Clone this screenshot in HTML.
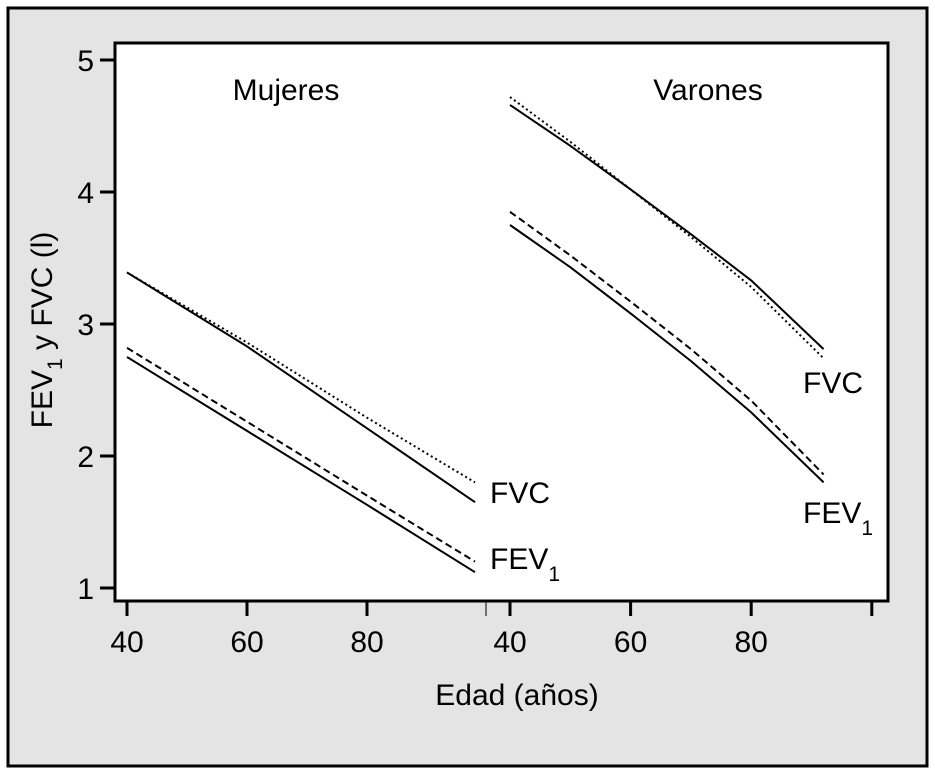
<!DOCTYPE html>
<html><head><meta charset="utf-8"><style>
body{margin:0;background:#fff}
svg{display:block;font-family:"Liberation Sans",sans-serif}
</style></head><body>
<svg width="935" height="773">
<rect x="8" y="8" width="919" height="758" fill="#e4e4e4" stroke="#000" stroke-width="3"/>
<rect x="115" y="43" width="773" height="558" fill="#fff" stroke="#000" stroke-width="3"/>
<g id="axes"></g>
<g id="series"></g>
<text x="286" y="100" font-size="30" text-anchor="middle">Mujeres</text>
<text x="708" y="100" font-size="30" text-anchor="middle">Varones</text>
<text x="490" y="503" font-size="30">FVC</text>
<text x="490" y="569" font-size="30">FEV<tspan font-size="21" dy="12">1</tspan></text>
<text x="803" y="393" font-size="30">FVC</text>
<text x="803" y="523" font-size="30">FEV<tspan font-size="21" dy="12">1</tspan></text>
<text x="517" y="705" font-size="30" text-anchor="middle">Edad (años)</text>
<text transform="translate(52,330) rotate(-90)" font-size="30" text-anchor="middle">FEV<tspan font-size="21" dy="10">1</tspan><tspan dy="-10"> y FVC (l)</tspan></text>
</svg>
<script>
const yTicks=[1,2,3,4,5];
const xTicks=[40,60,80];
const agesLeft=[40,60,80,98];
const agesRight=[40,50,60,70,80,92];
const mFvcSolid=[3.39,2.83,2.21,1.65];
const mFvcDotted=[3.39,2.86,2.29,1.80];
const mFev1Solid=[2.75,2.19,1.63,1.12];
const mFev1Dashed=[2.82,2.26,1.70,1.20];
const vFvcSolid=[4.66,4.35,4.02,3.68,3.33,2.81];
const vFvcDotted=[4.72,4.38,4.02,3.66,3.28,2.74];
const vFev1Solid=[3.75,3.43,3.08,2.72,2.33,1.80];
const vFev1Dashed=[3.85,3.52,3.17,2.81,2.42,1.86];
const NS="http://www.w3.org/2000/svg";
const y=v=>588-(v-1)*132;
const xL=a=>127+6*(a-40);
const xR=a=>510+6.03*(a-40);
const axes=document.getElementById('axes'),series=document.getElementById('series');
function mk(tag,attrs,parent){const e=document.createElementNS(NS,tag);for(const k in attrs)e.setAttribute(k,attrs[k]);parent.appendChild(e);return e;}
yTicks.forEach(v=>{
  const t=mk('line',{x1:100,x2:115,y1:y(v),y2:y(v),stroke:'#000','stroke-width':3},axes);
  
  
  const l=mk('text',{x:94,y:y(v)+11,'font-size':30,'text-anchor':'end'},axes);l.textContent=v;
  
  
});
[xL,xR].forEach(fx=>{
  xTicks.forEach(a=>{
    const t=mk('line',{x1:fx(a),x2:fx(a),y1:602,y2:616,stroke:'#000','stroke-width':3},axes);
    
    
    const l=mk('text',{x:fx(a),y:652,'font-size':30,'text-anchor':'middle'},axes);l.textContent=a;
    
    
  });
});
const t100=mk('line',{x1:xR(100),x2:xR(100),y1:602,y2:616,stroke:'#000','stroke-width':3},axes);


const div=mk('line',{x1:486,x2:486,y1:602,y2:616,stroke:'#000','stroke-width':1},axes);


function line(ages,vals,fx,dash,name){
  const pts=ages.map((a,i)=>fx(a).toFixed(1)+','+y(vals[i]).toFixed(1)).join(' ');
  const p=mk('polyline',{points:pts,fill:'none',stroke:'#000','stroke-width':2,'stroke-dasharray':dash,'stroke-linejoin':'round'},series);
  
  
}
line(agesLeft,mFvcSolid,xL,'none','mujeres-fvc-solid');
line(agesLeft,mFvcDotted,xL,'2,3','mujeres-fvc-dotted');
line(agesLeft,mFev1Solid,xL,'none','mujeres-fev1-solid');
line(agesLeft,mFev1Dashed,xL,'7,4','mujeres-fev1-dashed');
line(agesRight,vFvcSolid,xR,'none','varones-fvc-solid');
line(agesRight,vFvcDotted,xR,'2,3','varones-fvc-dotted');
line(agesRight,vFev1Solid,xR,'none','varones-fev1-solid');
line(agesRight,vFev1Dashed,xR,'7,4','varones-fev1-dashed');
</script>
</body></html>
